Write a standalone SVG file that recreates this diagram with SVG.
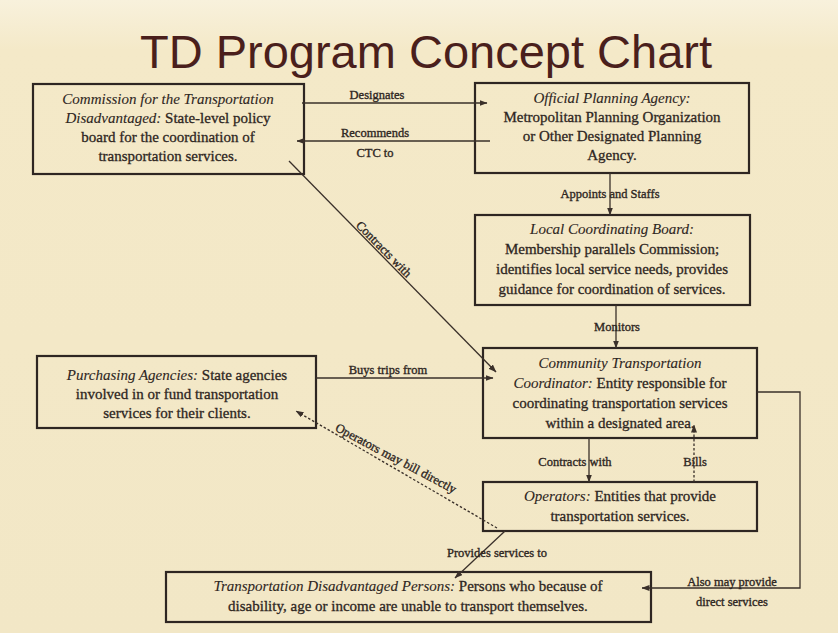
<svg xmlns="http://www.w3.org/2000/svg" width="838" height="633" viewBox="0 0 838 633">
<defs>
<linearGradient id="bg" x1="0" y1="0" x2="0" y2="1">
<stop offset="0" stop-color="#f8f1dc"/>
<stop offset="0.08" stop-color="#f4e9c8"/>
<stop offset="1" stop-color="#f2e7c6"/>
</linearGradient>
<marker id="ah" markerWidth="8" markerHeight="6" refX="7.5" refY="3" orient="auto" markerUnits="userSpaceOnUse">
<path d="M0,0 L8,3 L0,6 Z" fill="#3a302a"/>
</marker>
<style>
.box{fill:none;stroke:#2e2622;stroke-width:2.2}
.t{font-family:"Liberation Serif","Times New Roman",serif;font-size:15px;fill:#2e2622;stroke:#2e2622;stroke-width:0.3;text-anchor:middle}
.i{font-style:italic;stroke-width:0.1}
.lbl{font-family:"Liberation Serif","Times New Roman",serif;font-size:12.5px;fill:#2e2622;stroke:#2e2622;stroke-width:0.35;text-anchor:middle}
.ln{fill:none;stroke:#3a302a;stroke-width:1.3}
.dash{fill:none;stroke:#3a302a;stroke-width:1.3;stroke-dasharray:2.5,2}
</style>
</defs>
<rect x="0" y="0" width="838" height="633" fill="url(#bg)"/>
<text x="426" y="68" font-family="Liberation Sans, Arial, sans-serif" font-size="47" fill="#4a1f1c" text-anchor="middle">TD Program Concept Chart</text>

<g id="commission">
<rect class="box" x="33" y="84" width="271" height="90"/>
<text class="t" x="168" y="104"><tspan class="i">Commission for the Transportation</tspan></text>
<text class="t" x="168" y="123"><tspan class="i">Disadvantaged:</tspan> State-level policy</text>
<text class="t" x="168" y="142">board for the coordination of</text>
<text class="t" x="168" y="161">transportation services.</text>
</g>

<g id="planning-agency">
<rect class="box" x="475" y="83" width="274" height="90"/>
<text class="t" x="612" y="103"><tspan class="i">Official Planning Agency:</tspan></text>
<text class="t" x="612" y="122">Metropolitan Planning Organization</text>
<text class="t" x="612" y="141">or Other Designated Planning</text>
<text class="t" x="612" y="160">Agency.</text>
</g>

<g id="local-board">
<rect class="box" x="475" y="215" width="275" height="90"/>
<text class="t" x="612" y="234"><tspan class="i">Local Coordinating Board:</tspan></text>
<text class="t" x="612" y="254">Membership parallels Commission;</text>
<text class="t" x="612" y="274">identifies local service needs, provides</text>
<text class="t" x="612" y="294">guidance for coordination of services.</text>
</g>

<g id="purchasing">
<rect class="box" x="37" y="356" width="279" height="72"/>
<text class="t" x="177" y="380"><tspan class="i">Purchasing Agencies:</tspan> State agencies</text>
<text class="t" x="177" y="399">involved in or fund transportation</text>
<text class="t" x="177" y="418">services for their clients.</text>
</g>

<g id="ctc">
<rect class="box" x="483" y="348" width="274" height="90"/>
<text class="t" x="620" y="368"><tspan class="i">Community Transportation</tspan></text>
<text class="t" x="620" y="388"><tspan class="i">Coordinator:</tspan> Entity responsible for</text>
<text class="t" x="620" y="408">coordinating transportation services</text>
<text class="t" x="620" y="428">within a designated area.</text>
</g>

<g id="operators">
<rect class="box" x="483" y="482" width="274" height="49"/>
<text class="t" x="620" y="501"><tspan class="i">Operators:</tspan> Entities that provide</text>
<text class="t" x="620" y="521">transportation services.</text>
</g>

<g id="td-persons">
<rect class="box" x="166" y="572" width="485" height="50"/>
<text class="t" x="408" y="591"><tspan class="i">Transportation Disadvantaged Persons:</tspan> Persons who because of</text>
<text class="t" x="408" y="611">disability, age or income are unable to transport themselves.</text>
</g>

<g id="connectors">
<path class="ln" d="M302,103 H487" marker-end="url(#ah)"/>
<text class="lbl" x="377" y="99">Designates</text>
<path class="ln" d="M490,141 H297" marker-end="url(#ah)"/>
<text class="lbl" x="375" y="137">Recommends</text>
<text class="lbl" x="375" y="157">CTC to</text>

<path class="ln" d="M610,173 V215" marker-end="url(#ah)"/>
<text class="lbl" x="610" y="198">Appoints and Staffs</text>

<path class="ln" d="M616,305 V348" marker-end="url(#ah)"/>
<text class="lbl" x="617" y="331">Monitors</text>

<path class="ln" d="M289,161 L496,372" marker-end="url(#ah)"/>
<text class="lbl" transform="translate(381,252) rotate(45.5)">Contracts with</text>

<path class="ln" d="M316,378 H493" marker-end="url(#ah)"/>
<text class="lbl" x="388" y="374">Buys trips from</text>

<path class="ln" d="M589,438 V482" marker-end="url(#ah)"/>
<text class="lbl" x="575" y="466">Contracts with</text>

<path class="dash" d="M694,482 V425" marker-end="url(#ah)"/>
<text class="lbl" x="695" y="466">Bills</text>

<path class="dash" d="M497,528 L296,411" marker-end="url(#ah)"/>
<text class="lbl" transform="translate(394,462) rotate(28)">Operators may bill directly</text>

<path class="ln" d="M505,531 L455,578" marker-end="url(#ah)"/>
<text class="lbl" x="497" y="557">Provides services to</text>

<path class="ln" d="M757,392 H800 V588 H642" marker-end="url(#ah)"/>
<text class="lbl" x="732" y="586">Also may provide</text>
<text class="lbl" x="732" y="606">direct services</text>
</g>
</svg>
